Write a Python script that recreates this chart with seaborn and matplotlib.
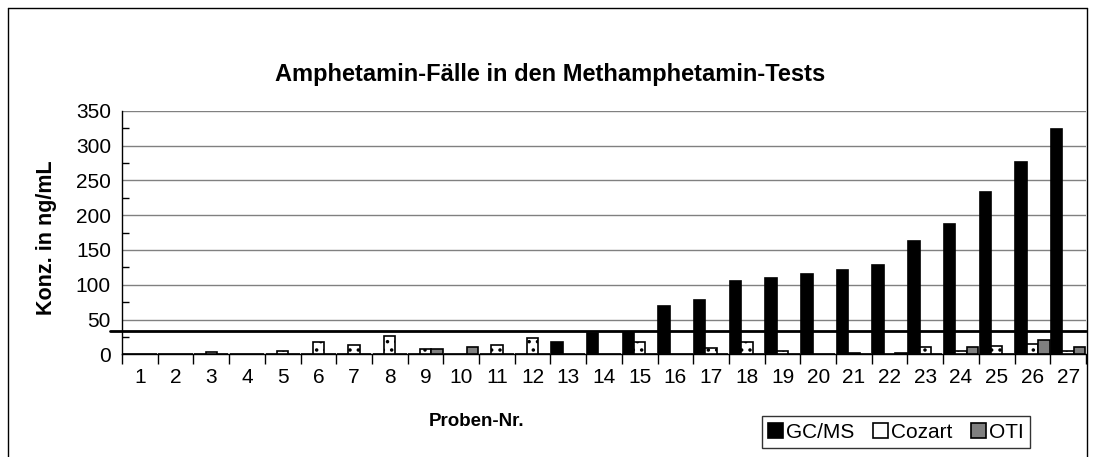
import numpy as np
import pandas as pd
import seaborn as sns
import matplotlib.pyplot as plt
from matplotlib.lines import Line2D
from matplotlib.ticker import MultipleLocator, FixedLocator

probe = list(range(1, 28))
gcms = [0, 0, 0, 0, 0, 0, 0, 0, 0, 0, 0, 0, 17, 30, 32, 69, 78, 105, 110, 115, 121, 128, 163, 187, 233, 277, 323]
cozart = [1, 0, 4, 0, 5, 17, 13, 27, 7, 1, 13, 24, 0, 0, 17, 0, 9, 18, 5, 0, 2, 0, 10, 5, 12, 15, 5]
oti = [0, 0, 0, 0, 0, 0, 0, 0, 8, 11, 0, 0, 0, 0, 0, 0, 0, 0, 0, 0, 0, 2, 0, 11, 0, 20, 11]
series = ['GC/MS', 'Cozart', 'OTI']
grenzwert = 33

df = pd.DataFrame({
    'Probe': probe * 3,
    'Methode': [s for s in series for _ in probe],
    'Wert': gcms + cozart + oti,
})

sns.set_style('white')
plt.rcParams['font.family'] = ['Liberation Sans', 'DejaVu Sans']
plt.rcParams['hatch.linewidth'] = 1.3
for key in ['text.color', 'axes.labelcolor', 'xtick.color', 'ytick.color']:
    plt.rcParams[key] = 'black'

fig = plt.figure(figsize=(10.94, 4.57), dpi=100)
ax = fig.add_axes([122 / 1094, 1 - 354.3 / 457, (1086 - 122) / 1094, (354.3 - 110.7) / 457])

farben = {'GC/MS': '#000000', 'Cozart': '#ffffff', 'OTI': '#808080'}
sns.barplot(data=df, x='Probe', y='Wert', hue='Methode', hue_order=series,
            palette=farben, width=0.96, edgecolor='black', linewidth=1.2,
            saturation=1, ax=ax, zorder=3)

for cont, s in zip(ax.containers, series):
    if s == 'Cozart':
        for p in cont:
            p.set_hatch('..')

ax.set_ylim(0, 350)
ax.set_xlim(-0.5, 26.5)
ax.yaxis.set_major_locator(MultipleLocator(50))
ax.yaxis.set_minor_locator(MultipleLocator(25))
ax.yaxis.grid(True, color='#808080', linewidth=1, zorder=0)
ax.set_axisbelow(True)
ax.tick_params(axis='y', which='major', direction='inout', length=10, width=1, labelsize=15, pad=3)
ax.tick_params(axis='y', which='minor', direction='in', length=5, width=1, left=True)
ax.xaxis.set_minor_locator(FixedLocator(np.arange(-0.5, 27, 1)))
ax.tick_params(axis='x', which='major', length=0, labelsize=15, pad=10)
ax.tick_params(axis='x', which='minor', direction='out', length=7, width=1, bottom=True)

for side in ['top', 'right']:
    ax.spines[side].set_visible(False)
for side in ['left', 'bottom']:
    ax.spines[side].set_color('black')
    ax.spines[side].set_linewidth(1)

ax.axhline(grenzwert, xmin=-0.012, xmax=1, color='black', linewidth=2, clip_on=False, zorder=4)

ax.set_xlabel('')
ax.set_ylabel('')
fig.text(477 / 1094, 1 - 421 / 457, 'Proben-Nr.', ha='center', va='center',
         fontsize=13.5, fontweight='bold')
fig.text(47 / 1094, 1 - 238 / 457, 'Konz. in ng/mL', ha='center', va='center',
         rotation=90, fontsize=15.5, fontweight='bold')
fig.text(550 / 1094, 1 - 75 / 457, 'Amphetamin-Fälle in den Methamphetamin-Tests',
         ha='center', va='center', fontsize=17, fontweight='bold')

handles, labels = ax.get_legend_handles_labels()
ax.legend(handles, labels, loc='center', bbox_to_anchor=(896 / 1094, 1 - 432 / 457),
          bbox_transform=fig.transFigure, ncol=3, frameon=True, fancybox=False,
          edgecolor='black', fontsize=15, handlelength=0.7, handleheight=0.7,
          handletextpad=0.15, columnspacing=0.9, borderpad=0.3, title=None)
ax.get_legend().get_frame().set_linewidth(1)

# Rahmen um das Diagramm
for x0, y0, x1, y1 in [(7.5, 7.5, 1087, 7.5), (7.5, 7.5, 7.5, 457), (1087, 7.5, 1087, 457)]:
    fig.add_artist(Line2D([x0 / 1094, x1 / 1094], [1 - y0 / 457, 1 - y1 / 457],
                          color='black', linewidth=1, transform=fig.transFigure))

fig.savefig('out.png', dpi=100)
